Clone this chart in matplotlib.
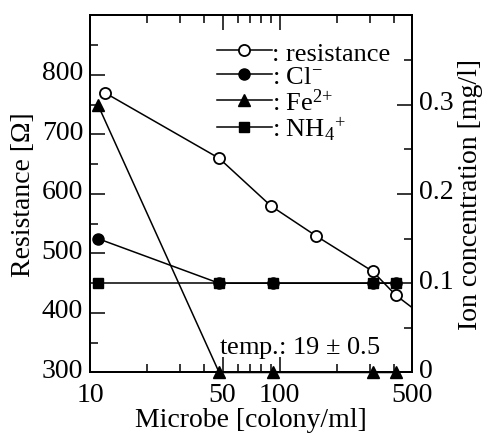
import numpy as np
import matplotlib
matplotlib.use('Agg')
import matplotlib.pyplot as plt
import matplotlib.transforms as mtransforms
from matplotlib.ticker import FixedLocator, NullFormatter

plt.rcParams['font.family'] = ['Liberation Serif', 'DejaVu Serif']
plt.rcParams['mathtext.fontset'] = 'custom'
plt.rcParams['mathtext.rm'] = 'Liberation Serif'
plt.rcParams['mathtext.it'] = 'Liberation Serif:italic'
plt.rcParams['font.size'] = 20

# resistance vs microbe count (last point lies past the axis edge)
res_x = [12, 48, 90, 155, 310, 410, 600]
res_y = [770, 660, 580, 530, 470, 430, 390]

# ion concentrations
ion_x = [11, 48, 92, 310, 410]
cl_y = [0.15, 0.1, 0.1, 0.1, 0.1]
fe_y = [0.3, 0.0, 0.0, 0.0, 0.0]
nh4_y = [0.1, 0.1, 0.1, 0.1, 0.1]

x_major = [10, 50, 100, 500]
x_minor = [20, 30, 40, 60, 70, 80, 90, 200, 300, 400]

fig = plt.figure(figsize=(4.85, 4.35), dpi=100)
ax = fig.add_axes([0.1856, 0.1414, 0.664, 0.8207])
ax2 = ax.twinx()

lw = 1.1
ms = 8
h_res, = ax.plot(res_x, res_y, '-o', color='black', mfc='white', mec='black',
                 lw=lw, ms=ms, mew=1.3)
h_cl, = ax2.plot(ion_x, cl_y, '-o', color='black', lw=lw, ms=ms)
h_fe, = ax2.plot(ion_x, fe_y, '-^', color='black', lw=lw, ms=ms + 1, clip_on=False)
h_nh4, = ax2.plot(ion_x, nh4_y, '-s', color='black', lw=lw, ms=ms - 0.5)

ax.set_xscale('log')
ax.set_xlim(10, 500)
ax.set_ylim(300, 900)
ax2.set_ylim(0, 0.4)

ax.xaxis.set_major_locator(FixedLocator(x_major))
ax.xaxis.set_minor_locator(FixedLocator(x_minor))
ax.xaxis.set_minor_formatter(NullFormatter())
ax.set_xticklabels(['10', '50', '100', '500'])

ax.set_yticks([300, 400, 500, 600, 700, 800])
ax.set_yticks(np.arange(350, 900, 100), minor=True)
ax2.set_yticks([0, 0.1, 0.2, 0.3])
ax2.set_yticklabels(['0', '0.1', '0.2', '0.3'])
ax2.set_yticks([0.05, 0.15, 0.25, 0.35], minor=True)

ax.tick_params(axis='x', which='both', direction='in', top=True)
ax.tick_params(axis='y', which='both', direction='in', right=False)
ax2.tick_params(axis='y', which='both', direction='in')
for a in (ax, ax2):
    a.tick_params(which='major', length=11, width=1.1, pad=5)
    a.tick_params(which='minor', length=6, width=1.1)
    for s in a.spines.values():
        s.set_linewidth(1.4)
ax.tick_params(axis='x', which='major', pad=7)

# y tick labels sit a little above their ticks in the original
shift = mtransforms.ScaledTranslation(0, 0.05, fig.dpi_scale_trans)
for lab in ax.get_yticklabels() + ax2.get_yticklabels():
    lab.set_transform(lab.get_transform() + shift)

ax.set_xlabel('Microbe [colony/ml]', labelpad=0)
ax.set_ylabel('Resistance [Ω]', labelpad=4)
ax2.set_ylabel('Ion concentration [mg/l]', labelpad=3)

ax.text(0.40, 0.055, 'temp.: 19 $\\pm$ 0.5', transform=ax.transAxes, fontsize=19)

leg = ax2.legend([h_res, h_cl, h_fe, h_nh4],
                 [': resistance', ': Cl$^{-}$', ': Fe$^{2{+}}$', ': NH$_4$$^{+}$'],
                 loc='upper right', bbox_to_anchor=(0.99, 0.98), frameon=False,
                 handlelength=2.1, handletextpad=0.0, labelspacing=0.0,
                 borderpad=0.2, fontsize=19)

fig.savefig('out.png', dpi=100)
